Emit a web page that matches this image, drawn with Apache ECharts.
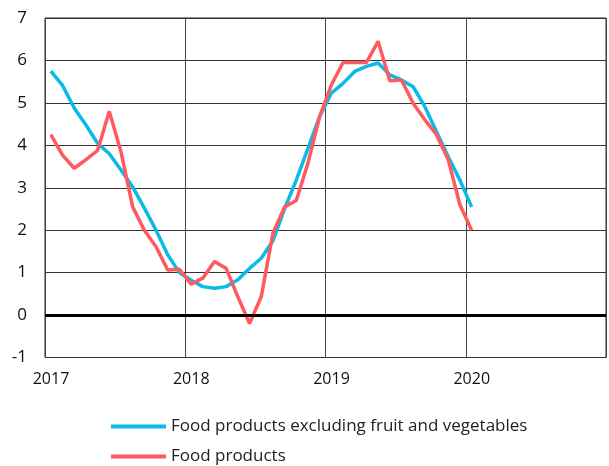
<!DOCTYPE html>
<html><head><meta charset="utf-8">
<script src="https://cdn.jsdelivr.net/npm/echarts@6/dist/echarts.min.js"></script>
<style>html,body{margin:0;padding:0;background:#fff}#c{width:609px;height:466px}</style>
</head><body><div id="c"></div>
<script>
const startYear = 2017;
const yearTicks = [2017, 2018, 2019, 2020];
const seriesNames = ['Food products excluding fruit and vegetables', 'Food products'];
// Monthly values, Jan 2017 .. Jan 2020
const exclFruitVeg = [5.75,5.41,4.88,4.48,4.05,3.8,3.42,3.02,2.52,2.0,1.42,1.0,
  0.82,0.67,0.63,0.67,0.83,1.1,1.34,1.75,2.51,3.18,3.93,4.68,
  5.23,5.46,5.74,5.86,5.94,5.66,5.54,5.38,4.91,4.32,3.73,3.18,2.55];
const foodProducts = [4.25,3.77,3.46,3.66,3.88,4.8,3.85,2.55,2.0,1.61,1.06,1.08,
  0.73,0.87,1.26,1.1,0.43,-0.2,0.43,1.93,2.55,2.7,3.58,4.68,
  5.42,5.95,5.95,5.95,6.45,5.52,5.54,4.99,4.6,4.25,3.66,2.6,2.0];

const toPts = arr => arr.map((v,i)=>[startYear + (i+0.5)/12, v]);
const chart = echarts.init(document.getElementById('c'));
const font = 'Open Sans, DejaVu Sans, sans-serif';
const legendBase = {orient:'horizontal', left:111, itemWidth:55, itemHeight:4, icon:'rect',
  padding:0, textStyle:{fontSize:17, fontFamily:font, color:'#222'}};
chart.setOption({
  animation:false,
  grid:{left:45, right:1, top:18, bottom:108.5, show:true, borderColor:'#222', borderWidth:1},
  xAxis:{type:'value', min:2017, max:2021, interval:1,
    axisLine:{show:false}, axisTick:{show:false},
    splitLine:{show:true, lineStyle:{color:'#444', width:1}},
    axisLabel:{color:'#111', fontSize:16, fontFamily:font, margin:14, padding:[0,0,0,12],
      formatter:v=> yearTicks.includes(v) ? String(v) : ''}},
  yAxis:{type:'value', min:-1, max:7, interval:1,
    axisLine:{show:false}, axisTick:{show:false},
    splitLine:{show:true, lineStyle:{color:'#333', width:1}},
    axisLabel:{color:'#111', fontSize:17, fontFamily:font, margin:18}},
  legend:[
    Object.assign({}, legendBase, {top:418, data:[seriesNames[0]]}),
    Object.assign({}, legendBase, {top:448, data:[seriesNames[1]]})
  ],
  series:[
    {name:seriesNames[0], type:'line', data:toPts(exclFruitVeg), showSymbol:false,
     lineStyle:{color:'#0ABBE6', width:3.5}, itemStyle:{color:'#0ABBE6'},
     markLine:{silent:true, symbol:'none', label:{show:false},
       lineStyle:{color:'#000', width:3, type:'solid'}, data:[{yAxis:0}]}},
    {name:seriesNames[1], type:'line', data:toPts(foodProducts), showSymbol:false,
     lineStyle:{color:'#FF5A5F', width:3.5}, itemStyle:{color:'#FF5A5F'}}
  ]
});
</script></body></html>
